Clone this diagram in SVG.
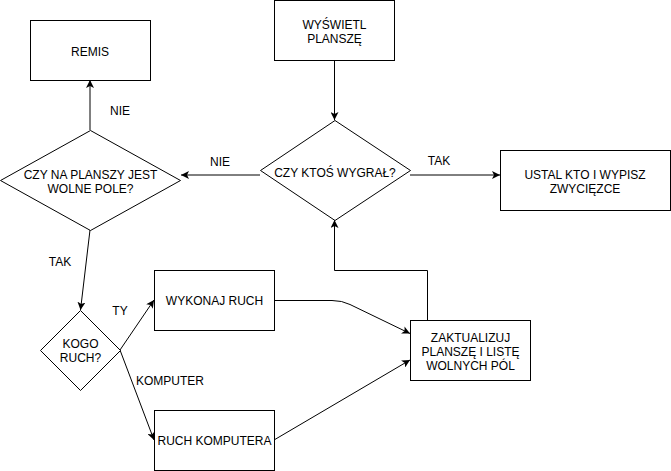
<svg xmlns="http://www.w3.org/2000/svg" width="671" height="471" viewBox="0 0 671 471">
<defs>
<style>
.n{fill:#fff;stroke:#000;stroke-width:1}
.t{font-family:"Liberation Sans",Arial,sans-serif;font-size:12px;fill:#000;text-anchor:middle}
.e{fill:none;stroke:#000;stroke-width:1}
</style>
<marker id="a" viewBox="0 0 8 8" refX="8" refY="4" markerWidth="8" markerHeight="8" markerUnits="userSpaceOnUse" orient="auto">
<path d="M0,0 L8,4 L0,8 L2,4 z" fill="#000"/>
</marker>
</defs>
<rect width="671" height="471" fill="#fff"/>
<g id="connectors">
<path class="e" d="M334.5,60 L334.5,120" marker-end="url(#a)"/>
<path class="e" d="M410,175 L500,175" marker-end="url(#a)"/>
<path class="e" d="M260,175 L181,175" marker-end="url(#a)"/>
<path class="e" d="M90,130 L90,80" marker-end="url(#a)"/>
<path class="e" d="M90,230 L80.5,310" marker-end="url(#a)"/>
<path class="e" d="M120,350 L154,300" marker-end="url(#a)"/>
<path class="e" d="M120,350 L154,440" marker-end="url(#a)"/>
<path class="e" d="M274,300.5 L332,300.5 Q342,300.5 350,304.5 L410,333.5" marker-end="url(#a)"/>
<path class="e" d="M274,440 L410,360" marker-end="url(#a)"/>
<path class="e" d="M427.5,320 L427.5,270.5 L334.5,270.5 L334.5,220" marker-end="url(#a)"/>
</g>
<g id="labels">
<text class="t" x="120" y="115">NIE</text>
<text class="t" x="220" y="166">NIE</text>
<text class="t" x="439" y="165">TAK</text>
<text class="t" x="60" y="265.5">TAK</text>
<text class="t" x="120" y="315">TY</text>
<text class="t" x="170" y="385">KOMPUTER</text>
</g>
<g id="remis">
<rect class="n" x="30.5" y="20.5" width="120" height="60"/>
<text class="t" x="90" y="56">REMIS</text>
</g>
<g id="wyswietl">
<rect class="n" x="274.5" y="0.5" width="120" height="60"/>
<text class="t" x="334.5" y="29">WYŚWIETL</text>
<text class="t" x="334.5" y="43">PLANSZĘ</text>
</g>
<g id="czy-wygral">
<path class="n" d="M335,120.5 L410.5,170.5 L335,220.5 L260.5,170.5 Z"/>
<text class="t" x="335" y="177">CZY KTOŚ WYGRAŁ?</text>
</g>
<g id="ustal">
<rect class="n" x="500.5" y="150.5" width="170" height="60"/>
<text class="t" x="585" y="179">USTAL KTO I WYPISZ</text>
<text class="t" x="585" y="193">ZWYCIĘZCE</text>
</g>
<g id="czy-wolne">
<path class="n" d="M90.5,130.5 L180.5,180.5 L90.5,230.5 L0.5,180.5 Z"/>
<text class="t" x="90.5" y="179">CZY NA PLANSZY JEST</text>
<text class="t" x="90.5" y="193">WOLNE POLE?</text>
</g>
<g id="kogo">
<path class="n" d="M80.5,310.5 L120.5,350.5 L80.5,390.5 L40.5,350.5 Z"/>
<text class="t" x="80.5" y="348">KOGO</text>
<text class="t" x="80.5" y="362">RUCH?</text>
</g>
<g id="wykonaj">
<rect class="n" x="154.5" y="270.5" width="120" height="60"/>
<text class="t" x="214.5" y="305">WYKONAJ RUCH</text>
</g>
<g id="ruch-komputera">
<rect class="n" x="154.5" y="410.5" width="120" height="60"/>
<text class="t" x="214.5" y="445">RUCH KOMPUTERA</text>
</g>
<g id="zaktualizuj">
<rect class="n" x="410.5" y="320.5" width="120" height="60"/>
<text class="t" x="470.5" y="341.5">ZAKTUALIZUJ</text>
<text class="t" x="470.5" y="355.5">PLANSZĘ I LISTĘ</text>
<text class="t" x="470.5" y="369.5">WOLNYCH PÓL</text>
</g>
</svg>
